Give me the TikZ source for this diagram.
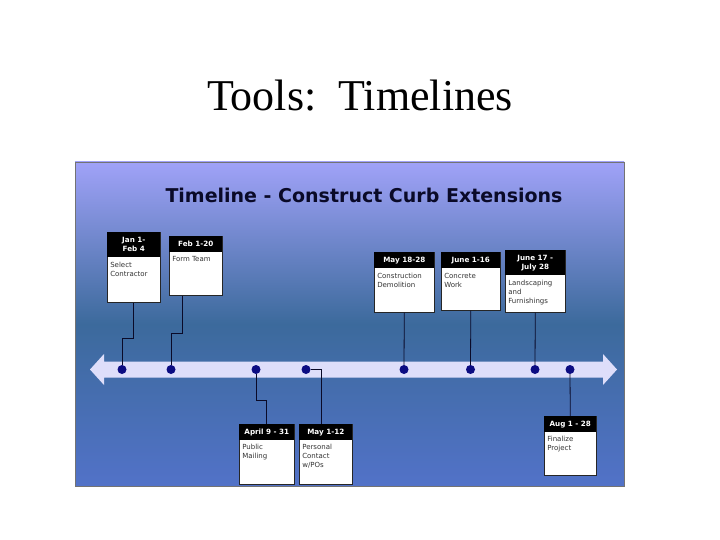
\documentclass[tikz,border=0pt]{standalone}
\usepackage{fontspec}
\setmainfont{Liberation Serif}
\newfontfamily\panelfont{DejaVu Sans}
\usetikzlibrary{positioning}

\definecolor{paneltop}{RGB}{160,162,248}
\definecolor{panelmid}{RGB}{60,106,156}
\definecolor{panelbot}{RGB}{82,114,200}
\definecolor{bandcol}{RGB}{222,222,250}
\definecolor{dotcol}{RGB}{12,12,130}
\definecolor{inkcol}{RGB}{10,10,40}

\begin{document}
\begin{tikzpicture}[x=1pt, y=-1pt,
  card/.style={draw=black!85, fill=white, anchor=north west, inner sep=0pt, line width=0.6pt},
  head/.style={fill=black, text=white, anchor=north, inner sep=0pt, align=center,
    font=\panelfont\bfseries\fontsize{7.2}{9}\selectfont},
  note/.style={anchor=north west, inner sep=0pt, align=left, text=black!80,
    font=\panelfont\fontsize{7}{9}\selectfont},
  dot/.style={circle, fill=dotcol, inner sep=0pt, minimum size=9pt},
  link/.style={draw=inkcol, line width=0.8pt}
]
\fill[white] (0,0) rectangle (720,540);
\useasboundingbox (0,0) rectangle (720,540);

\node[font=\fontsize{44}{50}\selectfont] (title) at (360,96) {Tools:\ \ Timelines};

% panel and time band
\shade[top color=paneltop, bottom color=panelbot, middle color=panelmid] (75,162) rectangle (624,486);
\draw[black!55, line width=0.6pt] (75,162) rectangle (624,486);
\node[font=\panelfont\bfseries\fontsize{19}{22}\selectfont, text=inkcol] (heading) at (364,195)
  {Timeline - Construct Curb Extensions};
\fill[bandcol] (90,369.5) -- (104,354) -- (104,361.5) -- (603,361.5) -- (603,354) -- (617,369.5)
  -- (603,385) -- (603,377.5) -- (104,377.5) -- (104,385) -- cycle;

% cards above the band
\node[card, minimum width=53pt, minimum height=70pt] (c1) at (107,232) {};
\node[head, minimum width=53pt, minimum height=25pt] (h1) at (c1.north) {Jan 1-\\Feb 4};
\node[note, below right=5pt and 3pt of h1.south west] (t1) {Select\\Contractor};

\node[card, minimum width=53pt, minimum height=59pt] (c2) at (169,236) {};
\node[head, minimum width=53pt, minimum height=16pt] (h2) at (c2.north) {Feb 1-20};
\node[note, below right=4pt and 3pt of h2.south west] (t2) {Form Team};

\node[card, minimum width=60pt, minimum height=60pt] (c3) at (374,252) {};
\node[head, minimum width=60pt, minimum height=16pt] (h3) at (c3.north) {May 18-28};
\node[note, below right=5pt and 3pt of h3.south west] (t3) {Construction\\Demolition};

\node[card, minimum width=59pt, minimum height=58pt] (c4) at (441,252) {};
\node[head, minimum width=59pt, minimum height=16pt] (h4) at (c4.north) {June 1-16};
\node[note, below right=5pt and 3pt of h4.south west] (t4) {Concrete\\Work};

\node[card, minimum width=60pt, minimum height=62pt] (c5) at (505,250) {};
\node[head, minimum width=60pt, minimum height=25pt] (h5) at (c5.north) {June 17 -\\July 28};
\node[note, below right=5pt and 3pt of h5.south west] (t5) {Landscaping\\and\\Furnishings};

% cards below the band
\node[card, minimum width=55pt, minimum height=60pt] (c6) at (239,424) {};
\node[head, minimum width=55pt, minimum height=16pt] (h6) at (c6.north) {April 9 - 31};
\node[note, below right=4pt and 3pt of h6.south west] (t6) {Public\\Mailing};

\node[card, minimum width=53pt, minimum height=60pt] (c7) at (299,424) {};
\node[head, minimum width=53pt, minimum height=16pt] (h7) at (c7.north) {May 1-12};
\node[note, below right=4pt and 3pt of h7.south west] (t7) {Personal\\Contact\\w/POs};

\node[card, minimum width=52pt, minimum height=59pt] (c8) at (544,416) {};
\node[head, minimum width=52pt, minimum height=16pt] (h8) at (c8.north) {Aug 1 - 28};
\node[note, below right=4pt and 3pt of h8.south west] (t8) {Finalize\\Project};

% milestones
\node[dot] (d1) at (122,369.5) {};
\node[dot] (d2) at (171,369.5) {};
\node[dot] (d6) at (256,369.5) {};
\node[dot] (d7) at (306,369.5) {};
\node[dot] (d3) at (404,369.5) {};
\node[dot] (d4) at (470.5,369.5) {};
\node[dot] (d5) at (535,369.5) {};
\node[dot] (d8) at (570,369.5) {};

\draw[link] (c1.south) -- ++(0,36) -| (d1.north);
\draw[link] ([xshift=-13pt]c2.south) -- ++(0,38) -| (d2.north);
\draw[link] (c3.south) -- (d3.north);
\draw[link] (c4.south) -- (d4.north);
\draw[link] (c5.south) -- (d5.north);
\draw[link] (d6.south) -- ++(0,26) -| (c6.north);
\draw[link] (d7.east) -| ([xshift=-4.5pt]c7.north);
\draw[link] (d8.south) -- (c8.north);
\end{tikzpicture}
\end{document}
